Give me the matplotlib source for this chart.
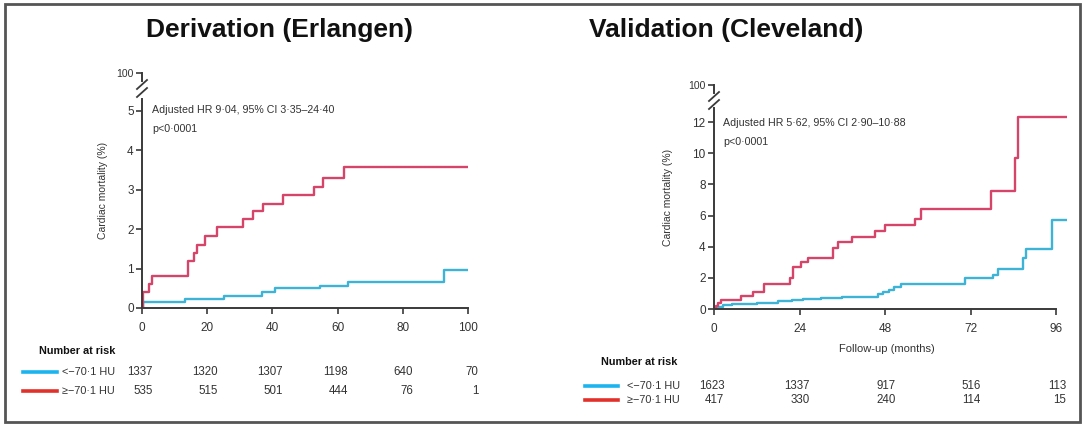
import matplotlib
matplotlib.use('Agg')
import matplotlib.pyplot as plt
from matplotlib.lines import Line2D
from matplotlib.patches import Rectangle

W, H = 1083, 425

# ---- data ----
erl_low_t = [0, 0.3, 13.3, 25, 36.7, 40.8, 54.6, 63.3, 92.7, 100]
erl_low_y = [0, 0.15, 0.22, 0.3, 0.4, 0.5, 0.57, 0.66, 0.96, 0.96]
erl_high_t = [0, 0.3, 2.0, 3.2, 14, 15.8, 17, 19.2, 23, 31, 34, 37, 43.2, 52.8, 55.6, 62, 100]
erl_high_y = [0, 0.4, 0.6, 0.8, 1.2, 1.4, 1.6, 1.82, 2.05, 2.25, 2.45, 2.65, 2.87, 3.08, 3.3, 3.58, 3.58]

cle_low_t = [0, 1, 2.5, 5, 12, 18, 22, 25, 30, 36, 46, 47.5, 49, 50.5, 52.5, 70.4, 78.4, 79.8, 86.8, 87.7, 95, 98.8]
cle_low_y = [0, 0.1, 0.25, 0.35, 0.4, 0.5, 0.55, 0.65, 0.7, 0.8, 0.95, 1.1, 1.25, 1.4, 1.6, 2.0, 2.2, 2.55, 3.3, 3.85, 5.7, 5.7]
cle_high_t = [0, 0.5, 1.2, 2, 7.5, 11, 14, 21.3, 22.2, 24.5, 26.4, 33.4, 34.8, 38.6, 45.1, 47.9, 56.4, 58.2, 77.7, 84.5, 85.4, 98.8]
cle_high_y = [0, 0.2, 0.4, 0.6, 0.85, 1.1, 1.6, 2.0, 2.7, 3.0, 3.3, 3.9, 4.3, 4.6, 5.0, 5.4, 5.8, 6.4, 7.6, 9.7, 12.3, 12.3]

erl_ticks = [0, 20, 40, 60, 80, 100]
erl_risk_low = [1337, 1320, 1307, 1198, 640, 70]
erl_risk_high = [535, 515, 501, 444, 76, 1]
cle_ticks = [0, 24, 48, 72, 96]
cle_risk_low = [1623, 1337, 917, 516, 113]
cle_risk_high = [417, 330, 240, 114, 15]

group_labels = ['<\u221270\u00b71 HU', '\u2265\u221270\u00b71 HU']

RED = '#d6446a'
BLUE = '#3db4d6'
LEG_RED = '#e2302a'
LEG_BLUE = '#1cb4ee'
AXC = '#3a3a3a'
TXT = '#333333'
small_font = ['Liberation Sans Narrow', 'Liberation Sans', 'DejaVu Sans']

plt.rcParams['font.family'] = small_font


def box(x0, y0, x1, y1):
    return [x0 / W, 1 - y1 / H, (x1 - x0) / W, (y1 - y0) / H]


def style(ax):
    for s in ['top', 'right']:
        ax.spines[s].set_visible(False)
    for s in ['left', 'bottom']:
        ax.spines[s].set_color(AXC)
        ax.spines[s].set_linewidth(1.4)
    ax.tick_params(colors=AXC, labelcolor=TXT, labelsize=8.5, length=4, width=1.2, pad=2)
    ax.patch.set_alpha(0)


def top_stub(rect, xlim):
    a = fig.add_axes(rect)
    a.set_xlim(*xlim)
    a.set_ylim(99, 100)
    a.set_yticks([100])
    a.set_yticklabels(['100'])
    for s in ['top', 'right', 'bottom']:
        a.spines[s].set_visible(False)
    a.spines['left'].set_color(AXC)
    a.spines['left'].set_linewidth(1.4)
    a.set_xticks([])
    a.tick_params(colors=AXC, labelcolor=TXT, labelsize=7.5, length=4, width=1.2, pad=2)
    a.patch.set_alpha(0)
    return a


def slashes(x, y):
    for dy in (0, 8):
        fig.add_artist(Line2D([(x - 5) / W, (x + 5) / W],
                              [1 - (y + 5 + dy) / H, 1 - (y - 4 + dy) / H],
                              transform=fig.transFigure, color=AXC, lw=1.3))


fig = plt.figure(figsize=(W / 100, H / 100), dpi=100)

# ---------- Derivation (Erlangen) ----------
ax1 = fig.add_axes(box(142, 99, 468, 308))
style(ax1)
ax1.step(erl_low_t, erl_low_y, where='post', color=BLUE, lw=1.7)
ax1.step(erl_high_t, erl_high_y, where='post', color=RED, lw=1.7)
ax1.set_xlim(0, 100)
ax1.set_ylim(0, 5.3)
ax1.set_xticks(erl_ticks)
ax1.set_yticks([0, 1, 2, 3, 4, 5])
ax1.tick_params(axis='x', pad=6)
top_stub(box(142, 73, 468, 81), (0, 100))
slashes(142, 84)

# ---------- Validation (Cleveland) ----------
ax2 = fig.add_axes(box(714, 108, 714 + 99 * 3.5625, 309))
style(ax2)
ax2.step(cle_low_t, cle_low_y, where='post', color=BLUE, lw=1.7)
ax2.step(cle_high_t, cle_high_y, where='post', color=RED, lw=1.7)
ax2.set_xlim(0, 99)
ax2.set_ylim(0, 12.9)
ax2.spines['bottom'].set_bounds(0, 96)
ax2.set_xticks(cle_ticks)
ax2.set_yticks([0, 2, 4, 6, 8, 10, 12])
ax2.tick_params(axis='x', pad=6)
top_stub(box(714, 85, 714 + 99 * 3.5625, 93), (0, 99))
slashes(714, 96)

# titles
fig.text(279 / W, 1 - 30 / H, 'Derivation (Erlangen)', ha='center', va='center',
         fontsize=19, fontweight='bold', family='Liberation Sans', color='#111111')
fig.text(726 / W, 1 - 30 / H, 'Validation (Cleveland)', ha='center', va='center',
         fontsize=19, fontweight='bold', family='Liberation Sans', color='#111111')

# y labels
fig.text(103 / W, 1 - 190 / H, 'Cardiac mortality (%)', rotation=90, ha='center', va='center',
         fontsize=7.5, color=TXT)
fig.text(668 / W, 1 - 197 / H, 'Cardiac mortality (%)', rotation=90, ha='center', va='center',
         fontsize=7.5, color=TXT)

# HR annotations
fig.text(152 / W, 1 - 110 / H, 'Adjusted HR 9\u00b704, 95% CI 3\u00b735\u201324\u00b740',
         ha='left', va='center', fontsize=7.7, color=TXT)
fig.text(152 / W, 1 - 129 / H, 'p<0\u00b70001', ha='left', va='center', fontsize=7.7, color=TXT)
fig.text(723 / W, 1 - 123 / H, 'Adjusted HR 5\u00b762, 95% CI 2\u00b790\u201310\u00b788',
         ha='left', va='center', fontsize=7.7, color=TXT)
fig.text(723 / W, 1 - 142 / H, 'p<0\u00b70001', ha='left', va='center', fontsize=7.7, color=TXT)

fig.text(887 / W, 1 - 349 / H, 'Follow-up (months)', ha='center', va='center', fontsize=8, color=TXT)


# number at risk tables
def risk_table(ax, ticks, low, high, head_xy, leg_x, lab_x, y_low, y_high):
    fig.text(head_xy[0] / W, 1 - head_xy[1] / H, 'Number at risk', ha='right', va='center',
             fontsize=7.8, fontweight='bold', color='#111111')
    for yy, col, lab in [(y_low, LEG_BLUE, group_labels[0]), (y_high, LEG_RED, group_labels[1])]:
        fig.add_artist(Line2D([leg_x[0] / W, leg_x[1] / W], [1 - yy / H, 1 - yy / H],
                              transform=fig.transFigure, color=col, lw=2.6))
        fig.text(lab_x / W, 1 - yy / H, lab, ha='right', va='center', fontsize=7.8, color=TXT)
    for t, a, b in zip(ticks, low, high):
        ax.annotate(str(a), xy=(t, 1 - y_low / H), xycoords=('data', 'figure fraction'),
                    xytext=(7.5, 0), textcoords='offset points', ha='right', va='center',
                    fontsize=8.3, color=TXT, annotation_clip=False)
        ax.annotate(str(b), xy=(t, 1 - y_high / H), xycoords=('data', 'figure fraction'),
                    xytext=(7.5, 0), textcoords='offset points', ha='right', va='center',
                    fontsize=8.3, color=TXT, annotation_clip=False)


risk_table(ax1, erl_ticks, erl_risk_low, erl_risk_high, (115, 351), (23, 57), 115, 372, 391)
risk_table(ax2, cle_ticks, cle_risk_low, cle_risk_high, (677, 362), (585, 618), 680, 386, 400)

# outer frame
fig.add_artist(Rectangle((5 / W, 3 / H), 1075 / W, 418 / H, transform=fig.transFigure,
                         fill=False, edgecolor='#555555', lw=2))

fig.savefig('out.png', dpi=100)
